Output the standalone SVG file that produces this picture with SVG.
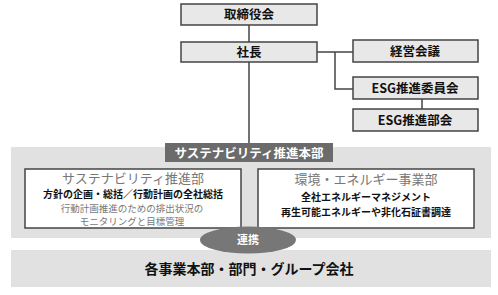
<svg xmlns="http://www.w3.org/2000/svg" width="498" height="295" viewBox="0 0 498 295">
<style>
text{font-family:"Noto Sans CJK JP","Noto Sans",sans-serif;text-anchor:middle}
.box{fill:#e8e8e8;stroke:#444;stroke-width:1.5}
.wbox{fill:#fff;stroke:#444;stroke-width:1.5}
.band{fill:#e1e1e1}
.b{font-weight:bold;fill:#111}
.g{fill:#777}
.w{fill:#fff;font-weight:bold}
.ln{stroke:#444;stroke-width:1.5;fill:none}
</style>
<rect width="498" height="295" fill="#fff"/>
<g id="connectors">
<path class="ln" d="M249 25V42M249 62V143M317 52H353M335 52V89H353M422 99V109"/>
</g>
<g id="board"><rect class="box" x="181" y="4" width="136" height="21"/><text class="b" x="249" y="19" font-size="12.5">取締役会</text></g>
<g id="president"><rect class="box" x="181" y="42" width="136" height="20"/><text class="b" x="249" y="57" font-size="12.5">社長</text></g>
<g id="mgmt"><rect class="box" x="353" y="40" width="125" height="22"/><text class="b" x="415" y="56" font-size="12.5">経営会議</text></g>
<g id="esg-committee"><rect class="box" x="353" y="77" width="125" height="22"/><text class="b" x="415" y="93" font-size="12.5">ESG推進委員会</text></g>
<g id="esg-council"><rect class="box" x="353" y="109" width="125" height="22"/><text class="b" x="415" y="125" font-size="12.5">ESG推進部会</text></g>
<g id="hq">
<rect class="band" x="11" y="147" width="480" height="91"/>
<rect x="165" y="143" width="168" height="19" fill="#6b6b6b"/>
<text class="w" x="249" y="157.5" font-size="12.5">サステナビリティ推進本部</text>
</g>
<g id="sustain-dept">
<rect class="wbox" x="25" y="169" width="216" height="59"/>
<text class="g" x="133" y="183" font-size="13">サステナビリティ推進部</text>
<text class="b" x="133" y="197.5" font-size="10">方針の企画・総括／行動計画の全社総括</text>
<text class="g" x="132" y="211.6" font-size="9.5">行動計画推進のための排出状況の</text>
<text class="g" x="132" y="225.4" font-size="9.5">モニタリングと目標管理</text>
</g>
<g id="energy-dept">
<rect class="wbox" x="258" y="169" width="216" height="59"/>
<text class="g" x="366" y="184" font-size="13">環境・エネルギー事業部</text>
<text class="b" x="366" y="201" font-size="10">全社エネルギーマネジメント</text>
<text class="b" x="366" y="215.6" font-size="10">再生可能エネルギーや非化石証書調達</text>
</g>
<g id="groups">
<rect class="band" x="11" y="250" width="480" height="37"/>
<text class="b" x="249" y="274" font-size="14">各事業本部・部門・グループ会社</text>
</g>
<g id="link">
<ellipse cx="248" cy="240" rx="48" ry="13.5" fill="#777"/>
<text class="w" x="248" y="244" font-size="11">連携</text>
</g>
</svg>
